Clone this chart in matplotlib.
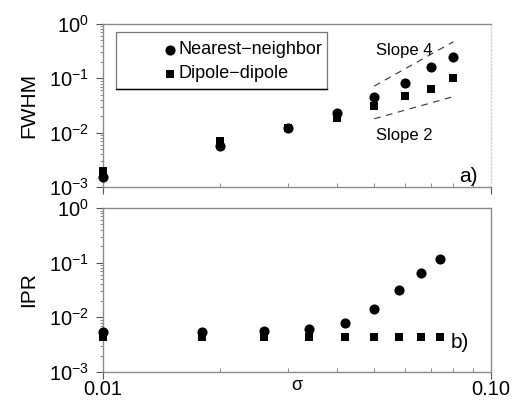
import matplotlib
matplotlib.use("Agg")
import matplotlib.pyplot as plt
import numpy as np
from matplotlib.patches import Rectangle
from matplotlib.ticker import LogLocator, NullFormatter, FixedLocator

plt.rcParams['font.family'] = ['Liberation Sans', 'DejaVu Sans']
plt.rcParams['mathtext.fontset'] = 'custom'
plt.rcParams['mathtext.rm'] = 'Liberation Sans'
plt.rcParams['mathtext.it'] = 'Liberation Sans:italic'

# Panel a) FWHM
sigma_a = [0.01, 0.02, 0.03, 0.04, 0.05, 0.06, 0.07, 0.08]
fwhm_nn = [1.5e-3, 5.6e-3, 0.0122, 0.023, 0.045, 0.083, 0.16, 0.245]
fwhm_dd = [2.0e-3, 7.0e-3, 0.012, 0.019, 0.031, 0.047, 0.064, 0.10]

# Guide lines (slope 4 and slope 2), anchored at sigma = 0.05
guide_sigma = [0.05, 0.08]
slope4_anchor = 0.072
slope2_anchor = 0.018

# Panel b) IPR
sigma_b = [0.01, 0.018, 0.026, 0.034, 0.042, 0.050, 0.058, 0.066, 0.074]
ipr_nn = [5.3e-3, 5.3e-3, 5.6e-3, 6.0e-3, 8.0e-3, 0.014, 0.031, 0.064, 0.118]
ipr_dd = [4.3e-3, 4.3e-3, 4.3e-3, 4.3e-3, 4.3e-3, 4.3e-3, 4.3e-3, 4.35e-3, 4.45e-3]

W, H = 514, 400
fig = plt.figure(figsize=(W / 100, H / 100), dpi=100)
left, right = 103 / W, 491 / W
ax1 = fig.add_axes([left, 1 - 187 / H, right - left, (187 - 24) / H])
ax2 = fig.add_axes([left, 1 - 372 / H, right - left, (372 - 208) / H])

spine_col = '#8a8a8a'
for ax in (ax1, ax2):
    ax.set_xscale('log')
    ax.set_yscale('log')
    ax.set_xlim(0.01, 0.10)
    ax.set_ylim(1e-3, 1e0)
    for s in ax.spines.values():
        s.set_color(spine_col)
        s.set_linewidth(1.0)
    ax.yaxis.set_major_locator(LogLocator(base=10, numticks=10))
    ax.yaxis.set_minor_locator(LogLocator(base=10, subs=np.arange(2, 10), numticks=10))
    ax.yaxis.set_minor_formatter(NullFormatter())
    ax.tick_params(axis='y', which='major', direction='out', length=5, color='#555555',
                   labelsize=14.5, pad=5)
    ax.tick_params(axis='y', which='minor', direction='out', length=2.5, color='#777777')
    ax.xaxis.set_major_locator(FixedLocator([0.01, 0.10]))
    ax.xaxis.set_minor_locator(FixedLocator([0.02, 0.03, 0.04, 0.05, 0.06, 0.07, 0.08, 0.09]))
    ax.xaxis.set_minor_formatter(NullFormatter())
    ax.tick_params(axis='x', which='major', direction='out', length=5, color='#555555',
                   labelsize=14.5, pad=1)
    ax.tick_params(axis='x', which='minor', direction='in', length=3, color='#777777')

ax1.spines['right'].set_color('#d0d0d0')
ax1.spines['right'].set_linestyle(':')
ax1.tick_params(axis='x', which='both', labelbottom=False)
ax2.set_xticklabels(['0.01', '0.10'])

mk_c = dict(color='black', ms=7.3, mew=0)
mk_s = dict(color='black', ms=6.0, mew=0)

# Panel a
ax1.plot(sigma_a, fwhm_nn, 'o', clip_on=False, zorder=3, **mk_c)
ax1.plot(sigma_a, fwhm_dd, 's', clip_on=False, zorder=3, **mk_s)
gs = np.array(guide_sigma)
ax1.plot(gs, slope4_anchor * (gs / gs[0]) ** 4, '--', color='#333333', lw=0.8, dashes=(6, 5))
ax1.plot(gs, slope2_anchor * (gs / gs[0]) ** 2, '--', color='#333333', lw=0.8, dashes=(6, 5))
ax1.text(0.0505, 0.33, 'Slope 4', fontsize=12, ha='left', va='center')
ax1.text(0.0505, 0.0088, 'Slope 2', fontsize=12, ha='left', va='center')
ax1.text(0.0925, 1.55e-3, 'a)', fontsize=15, ha='right', va='center')
ax1.set_ylabel('FWHM', fontsize=15, labelpad=8)

# Legend box
rx0, rx1 = (116 - 103) / 388, (327 - 103) / 388
ry0, ry1 = (187 - 89) / 163, (187 - 32) / 163
ax1.add_patch(Rectangle((rx0, ry0), rx1 - rx0, ry1 - ry0, transform=ax1.transAxes,
                        fill=False, edgecolor='#777777', lw=0.9, zorder=4))
ax1.plot([rx0, rx1], [ry0, ry0], color='black', lw=1.0, transform=ax1.transAxes, zorder=5)
mx = (170 - 103) / 388
tx = (179 - 103) / 388
for yy, mk, kw, lab in [((187 - 50) / 163, 'o', mk_c, 'Nearest\u2212neighbor'),
                        ((187 - 74) / 163, 's', mk_s, 'Dipole\u2212dipole')]:
    ax1.plot([mx], [yy], mk, transform=ax1.transAxes, zorder=5, **kw)
    ax1.text(tx, yy, lab, fontsize=13, ha='left', va='center', transform=ax1.transAxes,
             zorder=5)

# Panel b
ax2.plot(sigma_b, ipr_nn, 'o', clip_on=False, zorder=3, **mk_c)
ax2.plot(sigma_b, ipr_dd, 's', clip_on=False, zorder=3, **mk_s)
ax2.text(0.088, 3.5e-3, 'b)', fontsize=15, ha='right', va='center')
ax2.set_ylabel('IPR', fontsize=15, labelpad=8)
fig.text(297 / W, 1 - 386 / H, '\u03c3', fontsize=13, ha='center', va='center')

fig.savefig('out.png', dpi=100)
